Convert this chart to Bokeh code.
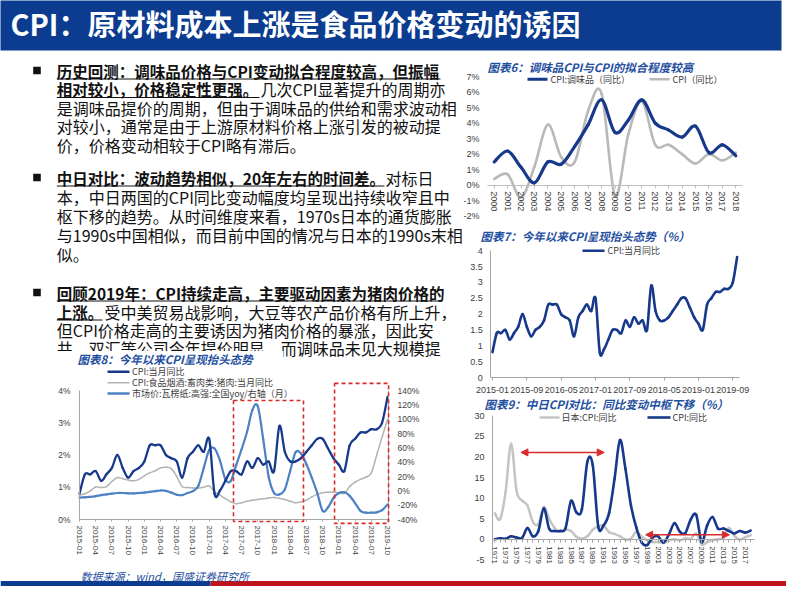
import numpy as np
from bokeh.plotting import figure
from bokeh.models import Range1d, LinearAxis, FixedTicker, BoxAnnotation, Arrow, NormalHead
from bokeh.core.properties import value
from bokeh.embed import file_html
from bokeh.resources import INLINE

# ---------------- data ----------------
c6_years = list(range(2000, 2019))
c6_seasoning = [1.5, 2.2, 1.15, 0.15, 1.5, 1.35, 2.5, 3.9, 5.5, 3.4, 4.2, 5.5, 4.0, 3.55, 3.1, 3.8, 2.1, 2.6, 1.9]
c6_cpi = [0.4, 0.7, -0.8, 1.2, 3.9, 1.8, 1.5, 4.8, 5.9, -0.7, 3.3, 5.4, 2.6, 2.6, 2.0, 1.4, 2.0, 1.6, 2.1]

months = [f"{y}-{m:02d}" for y in range(2015, 2020) for m in range(1, 13)][:58]
cpi_monthly = [0.8, 1.4, 1.4, 1.5, 1.2, 1.4, 1.6, 2.0, 1.6, 1.3, 1.5, 1.6,
               1.8, 2.3, 2.3, 2.3, 2.0, 1.9, 1.8, 1.3, 1.9, 2.1, 2.3, 2.1,
               2.5, 0.8, 0.9, 1.2, 1.5, 1.5, 1.4, 1.8, 1.6, 1.9, 1.7, 1.8,
               1.5, 2.9, 2.1, 1.8, 1.8, 1.9, 2.1, 2.3, 2.5, 2.5, 2.2, 1.9,
               1.7, 1.5, 2.3, 2.5, 2.7, 2.7, 2.8, 2.8, 3.0, 3.8]
pork_yoy = [-6, -4, 0, 5.5, 4.5, 6, 13, 18.5, 17, 15, 14, 16,
            21, 25, 28, 32, 33, 31, 20, 6, 4.5, 4, 4, 5,
            7, -1.7, -6, -11, -15.5, -18, -16.5, -14.5, -13, -12, -11, -10,
            -9.4, -10.5, -12, -14.5, -16.6, -15.5, -13, -8.5, -5, -2.6, -2, -1.8,
            -3, -3.6, 6, 12, 16, 19, 25, 50, 75, 99.5]
paper_yoy = [-9.5, -9, -8.5, -7.5, -6, -5, -4, -3, -3, -3.5, -3.5, -3,
             -2.5, -1.5, -0.5, 0.5, 0, -2.5, -5.5, -6, -3, -0.5, 7, 32,
             57, 59, 42, 16, 14, 36, 58, 82, 113, 118, 72, 20,
             -3, -5, 2, 28, 54, 52, 37, 18, -3, -28, -23, -10,
             -3, -2, -7, -17, -28, -30.5, -30.5, -30, -27, -19]

c9_years = list(range(1971, 2019))
c9_china = [0.0, 0.2, 0.1, 0.7, 0.4, 0.3, 2.7, 0.7, 2.0, 7.5,
            2.5, 2.0, 2.0, 2.7, 9.3, 6.5, 7.3, 18.8, 18.0, 3.1,
            3.4, 6.4, 14.7, 24.1, 17.1, 8.3, 2.8, -0.8, -1.4, 0.4,
            0.7, -0.8, 1.2, 3.9, 1.8, 1.5, 4.8, 5.9, -0.7, 3.3,
            5.4, 2.6, 2.6, 2.0, 1.4, 2.0, 1.6, 2.1]
c9_japan = [6.3, 4.9, 11.7, 23.2, 11.7, 9.4, 8.2, 4.2, 3.7, 7.8,
            4.9, 2.7, 1.9, 2.3, 2.0, 0.6, 0.1, 0.7, 2.3, 3.1,
            3.3, 1.7, 1.3, 0.7, -0.1, 0.1, 1.8, 0.6, -0.3, -0.7,
            -0.7, -0.9, -0.3, 0.0, -0.3, 0.2, 0.1, 1.4, -1.3, -0.7,
            -0.3, 0.0, 0.4, 2.7, 0.8, -0.1, 0.5, 1.0]

# highlighted periods (annotations)
c8_boxes = [(28.5, 41.45, -0.06, 3.69), (47.2, 57.2, -0.12, 4.22)]
c9_arrows = [(1975.8, 1991.1, 21.1), (1998.7, 2014.1, 1.07)]

# ---------------- styles ----------------
CJK = "Noto Sans CJK SC"
LAT = "Liberation Sans"
NAVY = "#17398c"
MID = "#4d80c4"
GRAY6 = "#b9b9b9"
GRAY9 = "#c4c4c4"
RED = "#d92b2b"
HEAD = "#0b3c8f"
TBLUE = "#1f4f9f"
AXC = "#a6a6a6"
TXT = "#404040"

p = figure(width=786, height=586, x_range=Range1d(8, 794), y_range=Range1d(594, 8),
           output_backend="svg", toolbar_location=None, x_axis_type=None, y_axis_type=None,
           min_border=0, title=None, outline_line_color=None,
           background_fill_color="white", border_fill_color="white")


def xmap(v0, p0, v1, p1):
    k = (p1 - p0) / (v1 - v0)
    return Range1d(start=v0 + (8 - p0) / k, end=v0 + (794 - p0) / k)


def ymap(v0, p0, v1, p1):
    k = (p1 - p0) / (v1 - v0)
    return Range1d(start=v0 + (594 - p0) / k, end=v0 + (8 - p0) / k)


p.extra_x_ranges = {
    "c6x": xmap(2000, 501.7, 2018, 743.3),
    "c7x": xmap(0, 500.0, 57, 744.6),
    "c8x": xmap(0, 87.0, 57, 395.0),
    "c9x": xmap(1971, 502.3, 2017, 752.7),
}
p.extra_y_ranges = {
    "c6y": ymap(0, 192.7, 7, 84.0),
    "c7y": ymap(0, 385.0, 4, 258.3),
    "c8y": ymap(0, 527.0, 4, 398.0),
    "c8r": ymap(-40, 527.0, 140, 398.0),
    "c9y": ymap(0, 546.7, 30, 423.3),
}


def smooth(x, y):
    x = np.asarray(x, float)
    y = np.asarray(y, float)
    n = len(x)
    xp = np.r_[x[0], x, x[-1]]
    yp = np.r_[y[0], y, y[-1]]
    return dict(x0=x[:-1], y0=y[:-1], x1=x[1:], y1=y[1:],
                cx0=xp[1:n] + (xp[2:n + 1] - xp[0:n - 1]) / 6,
                cy0=yp[1:n] + (yp[2:n + 1] - yp[0:n - 1]) / 6,
                cx1=xp[2:n + 1] - (xp[3:n + 2] - xp[1:n]) / 6,
                cy1=yp[2:n + 1] - (yp[3:n + 2] - yp[1:n]) / 6)


def curve(x, y, xr, yr, color, width):
    p.bezier(**smooth(x, y), line_color=color, line_width=width, line_cap="round",
             x_range_name=xr, y_range_name=yr)


def axis(side, xr, yr, loc, bounds, ticks, labels, orient="horizontal", size="9px",
         standoff=6, tick_out=0, line=AXC, minor=None):
    ax = LinearAxis(x_range_name=xr, y_range_name=yr, fixed_location=loc, bounds=bounds,
                    ticker=FixedTicker(ticks=list(ticks), minor_ticks=list(minor) if minor else []),
                    major_label_overrides={t: l for t, l in zip(ticks, labels)},
                    major_label_orientation=orient, major_label_standoff=standoff,
                    major_label_text_font=LAT, major_label_text_font_size=size,
                    major_label_text_color=TXT,
                    axis_line_color=line, axis_line_width=1,
                    major_tick_line_color=(line if tick_out else None),
                    major_tick_out=tick_out, major_tick_in=0,
                    minor_tick_line_color=(line if minor else None),
                    minor_tick_out=tick_out, minor_tick_in=0)
    p.add_layout(ax, side)


def T(x, y, s, size, color="#111111", font=CJK, style="normal", align="left"):
    p.text(x=[x], y=[y], text=[s], text_font=value(font), text_font_size=value(size),
           text_color=color, text_font_style=style, text_align=align, text_baseline="middle")


def seg(x0, y0, x1, y1, color, width):
    p.segment(x0=[x0], y0=[y0], x1=[x1], y1=[y1], line_color=color, line_width=width)


# ---------------- header & footer ----------------
p.quad(left=[2], right=[789], top=[2], bottom=[58], fill_color=HEAD, line_color=None)
T(18, 30.5, "CPI：原材料成本上涨是食品价格变动的诱因", "29px", "white", style="bold")
p.quad(left=[8], right=[218], top=[588.5], bottom=[594], fill_color=HEAD, line_color=None)
p.quad(left=[218], right=[794], top=[588.5], bottom=[594], fill_color="#c0141c", line_color=None)
T(88, 583, "数据来源：wind，国盛证券研究所", "11px", TBLUE, style="italic")

# ---------------- body text ----------------
X0 = 64.3
BS, NS = "15.5px", "16px"
for yb in (78, 185, 300):
    p.quad(left=[40.7], right=[48.3], top=[yb - 3.8], bottom=[yb + 3.8], fill_color="#111111", line_color=None)

T(X0, 78, "历史回测：调味品价格与CPI变动拟合程度较高，但振幅", BS, style="bold")
seg(X0, 86.5, 448, 86.5, "#111111", 1)
T(X0, 96.5, "相对较小，价格稳定性更强。", BS, style="bold")
seg(X0, 105, 267, 105, "#111111", 1)
T(268, 96.5, "几次CPI显著提升的周期亦", NS)
T(X0, 115, "是调味品提价的周期，但由于调味品的供给和需求波动相", NS)
T(X0, 133.5, "对较小，通常是由于上游原材料价格上涨引发的被动提", NS)
T(X0, 152, "价，价格变动相较于CPI略有滞后。", NS)

T(X0, 185, "中日对比：波动趋势相似，20年左右的时间差。", BS, style="bold")
seg(X0, 193.5, 392, 193.5, "#111111", 1)
T(393, 185, "对标日", NS)
T(X0, 204, "本，中日两国的CPI同比变动幅度均呈现出持续收窄且中", NS)
T(X0, 223, "枢下移的趋势。从时间维度来看，1970s日本的通货膨胀", NS)
T(X0, 242, "与1990s中国相似，而目前中国的情况与日本的1990s末相", NS)
T(X0, 261, "似。", NS)

T(X0, 300, "回顾2019年：CPI持续走高，主要驱动因素为猪肉价格的", BS, style="bold")
seg(X0, 308.5, 450, 308.5, "#111111", 1)
T(X0, 319, "上涨。", BS, style="bold")
seg(X0, 327.5, 110, 327.5, "#111111", 1)
T(112, 319, "受中美贸易战影响，大豆等农产品价格有所上升，", NS)
T(X0, 337.5, "但CPI价格走高的主要诱因为猪肉价格的暴涨，因此安", NS)
T(X0, 355, "井、双汇等公司今年提价明显，而调味品未见大规模提", NS)
p.quad(left=[56], right=[291], top=[358.5], bottom=[376], fill_color="white", line_color=None)

# ---------------- chart titles ----------------
T(495, 74, "图表6：调味品CPI与CPI的拟合程度较高", "11.5px", TBLUE, style="bold italic")
T(488, 243, "图表7：今年以来CPI呈现抬头态势（%）", "11.5px", TBLUE, style="bold italic")
T(85, 366, "图表8：今年以来CPI呈现抬头态势", "11.5px", TBLUE, style="bold italic")
T(492, 411, "图表9：中日CPI对比：同比变动中枢下移（%）", "11.5px", TBLUE, style="bold italic")

# ---------------- chart 6 ----------------
c6_ticks = list(range(-2, 8))
axis("left", "c6x", "c6y", 1999.5, (-2, 7), c6_ticks, [f"{t}%" for t in c6_ticks],
     standoff=8, line=None)
axis("below", "c6x", "c6y", 0, (1999.5, 2018.5), c6_years, [str(y) for y in c6_years],
     orient="vertical", size="9px", standoff=3, tick_out=3, line="#bfbfbf")
curve(c6_years, c6_cpi, "c6x", "c6y", GRAY6, 2.6)
curve(c6_years, c6_seasoning, "c6x", "c6y", NAVY, 3.2)
seg(535, 86.7, 555, 86.7, NAVY, 3)
T(558, 86.7, "CPI:调味品（同比）", "9px", TXT)
seg(657, 86.7, 677, 86.7, GRAY6, 2.5)
T(680, 86.7, "CPI（同比）", "9px", TXT)

# ---------------- chart 7 ----------------
c7_ticks = [0, 0.5, 1, 1.5, 2, 2.5, 3, 3.5, 4]
axis("left", "c7x", "c7y", -0.4, (0, 4), c7_ticks, ["0", "0.5", "1", "1.5", "2", "2.5", "3", "3.5", "4"],
     standoff=8)
c7_x = list(range(0, 57, 8))
axis("below", "c7x", "c7y", 0, (-0.4, 57.6), c7_x, [months[i] for i in c7_x],
     standoff=6, tick_out=3, size="9px")
curve(list(range(len(cpi_monthly))), cpi_monthly, "c7x", "c7y", NAVY, 2.6)
seg(590, 258.3, 612, 258.3, NAVY, 2.6)
T(615, 258.3, "CPI:当月同比", "9px", TXT)

# ---------------- chart 8 ----------------
c8_ticks = [0, 1, 2, 3, 4]
axis("left", "c8x", "c8y", 0, (0, 4), c8_ticks, [f"{t}%" for t in c8_ticks], standoff=9, size="8.5px")
c8_rticks = list(range(-40, 141, 20))
axis("right", "c8x", "c8r", 57.2, (-40, 140), c8_rticks, [f"{t}%" for t in c8_rticks],
     standoff=9, size="8.5px")
c8_x = list(range(0, 58, 3))
axis("below", "c8x", "c8y", 0, (0, 57.2), c8_x, [months[i] for i in c8_x],
     orient="vertical", size="8px", standoff=4, tick_out=2)
idx = list(range(len(months)))
curve(idx, pork_yoy, "c8x", "c8r", "#b3b3b3", 1.5)
curve(idx, paper_yoy, "c8x", "c8r", MID, 2.2)
curve(idx, cpi_monthly, "c8x", "c8y", NAVY, 2.3)
for (l, r, b, t) in c8_boxes:
    p.add_layout(BoxAnnotation(left=l, right=r, bottom=b, top=t, x_range_name="c8x", y_range_name="c8y",
                               fill_color=None, fill_alpha=0, line_color=RED, line_alpha=1.0,
                               line_width=1.6, line_dash="4 3"))
seg(115, 379.3, 137, 379.3, NAVY, 2.4)
T(139.5, 379.3, "CPI:当月同比", "9px", TXT)
seg(115, 390.2, 137, 390.2, "#b3b3b3", 1.6)
T(139.5, 390.2, "CPI:食品烟酒:畜肉类:猪肉:当月同比", "9px", TXT)
seg(115, 401, 137, 401, MID, 2.4)
T(139.5, 401, "市场价:瓦楞纸:高强:全国yoy/右轴（月）", "9px", TXT)

# ---------------- chart 9 ----------------
c9_ticks = list(range(-5, 31, 5))
axis("left", "c9x", "c9y", 1970.6, (-5, 30), c9_ticks, [str(t) for t in c9_ticks], standoff=8)
c9_lab = c9_years[0::2]
axis("below", "c9x", "c9y", 0, (1970.6, 2018.7), c9_lab, [str(y) for y in c9_lab],
     orient="vertical", size="8px", standoff=4, tick_out=3, minor=c9_years)
curve(c9_years, c9_japan, "c9x", "c9y", GRAY9, 2.5)
curve(c9_years, c9_china, "c9x", "c9y", NAVY, 2.6)
for (a, b, yv) in c9_arrows:
    p.add_layout(Arrow(start=NormalHead(size=7, fill_color=RED, line_color=RED),
                       end=NormalHead(size=7, fill_color=RED, line_color=RED),
                       x_start=a, y_start=yv, x_end=b, y_end=yv, line_color=RED, line_width=1.5,
                       x_range_name="c9x", y_range_name="c9y"))
seg(547, 425, 567, 425, GRAY9, 2.5)
T(569, 425, "日本:CPI:同比", "9px", TXT)
seg(655, 425, 678, 425, NAVY, 2.6)
T(680, 425, "CPI:同比", "9px", TXT)

open("out.html", "w", encoding="utf-8").write(file_html(p, INLINE))
